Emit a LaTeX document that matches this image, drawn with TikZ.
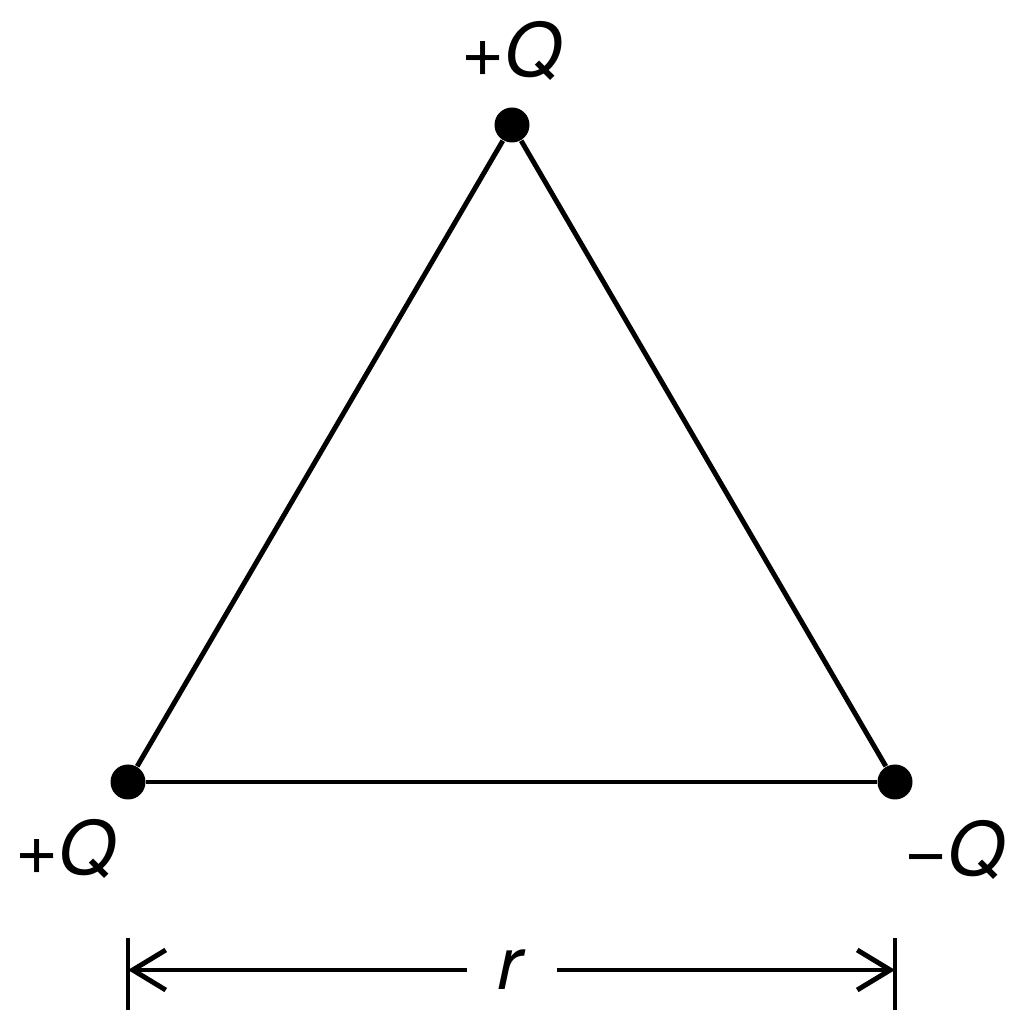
\documentclass[tikz,border=0pt]{standalone}
\usepackage{fontspec}
\setmainfont{TeX Gyre Heros}
\usepackage{tikz}
\usetikzlibrary {positioning}
\usetikzlibrary {arrows.meta}

\begin{document}
\begin{tikzpicture}

            % \draw [help lines] (0,0) grid (10,10);
            \useasboundingbox (0,0) rectangle (10.24,10.24);

            \tikzset{charge/.style={circle,fill=black,inner sep=0pt,minimum size=3.5mm},
                     lbl/.style={font=\fontsize{21}{24}\selectfont,inner sep=0pt},
                     side/.style={line width=1.4pt}}

            \path   (5.12,8.99) node (a) [charge] {}
                    (1.28,2.42) node (b) [charge] {}
                    (8.95,2.42) node (c) [charge] {}
                    (5.12,9.73) node (qa) [lbl] {+\textit{Q}}
                    (0.66,1.75) node (qb) [lbl] {+\textit{Q}}
                    (9.55,1.74) node (qc) [lbl] {−\textit{Q}}
                    (5.12,0.54) node (r) [lbl,inner xsep=3mm] {\textit{r}};

            \coordinate (lt) at (1.28,0.54);
            \coordinate (rt) at (8.95,0.54);

            \draw[side] (node cs: name =a) -- (node cs: name =b);
            \draw[side] (node cs: name =a) -- (node cs: name =c);
            \draw[side] (node cs: name =b) -- (node cs: name =c);

            \draw[side] (1.28,0.14) -- (1.28,0.86);
            \draw[side] (8.95,0.14) -- (8.95,0.86);
            \draw[side,arrows = -{Straight Barb[length=3.3mm,width=4mm]}] (r) -- (lt);
            \draw[side,arrows = -{Straight Barb[length=3.3mm,width=4mm]}] (r) -- (rt);

\end{tikzpicture}
\end{document}
